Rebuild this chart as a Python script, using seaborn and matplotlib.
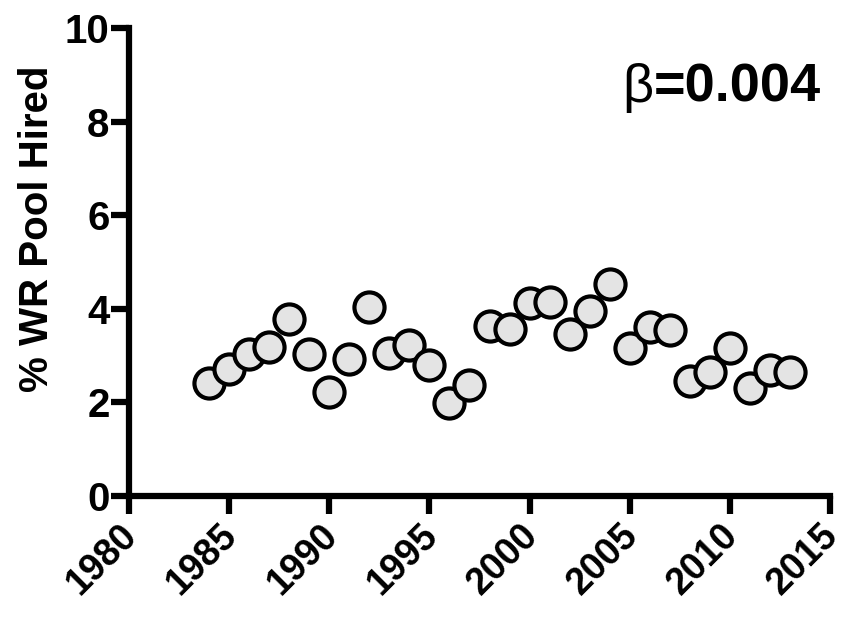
import matplotlib
matplotlib.use("Agg")
import matplotlib.pyplot as plt
import matplotlib.transforms as mtransforms
import seaborn as sns
import pandas as pd

# Share of the WR pool hired each year
years = list(range(1984, 2014))
pct_hired = [2.41, 2.71, 3.03, 3.19, 3.78, 3.03, 2.23, 2.92, 4.03, 3.06,
             3.23, 2.80, 1.99, 2.37, 3.63, 3.57, 4.12, 4.15, 3.46, 3.96,
             4.54, 3.17, 3.62, 3.55, 2.46, 2.66, 3.16, 2.31, 2.69, 2.66]
x_ticks = [1980, 1985, 1990, 1995, 2000, 2005, 2010, 2015]
y_ticks = [0, 2, 4, 6, 8, 10]
slope_label = "0.004"

df = pd.DataFrame({"year": years, "pct": pct_hired})

sns.set_theme(style="ticks")
plt.rcParams["font.family"] = ["Liberation Sans", "DejaVu Sans"]
for key in ("text.color", "axes.labelcolor", "xtick.color", "ytick.color",
            "axes.edgecolor"):
    plt.rcParams[key] = "black"

W, H = 846, 620
fig = plt.figure(figsize=(W / 100, H / 100), dpi=100)
fig.patch.set_facecolor("white")
ax = fig.add_axes([129 / W, 1 - 496 / H, (830 - 129) / W, (496 - 28) / H])
ax.set_facecolor("white")

sns.scatterplot(data=df, x="year", y="pct", ax=ax, s=470,
                color="#e4e4e4", edgecolor="black", linewidth=3.0,
                zorder=3, clip_on=False)

ax.set_xlim(1980, 2015)
ax.set_ylim(0, 10)
ax.set_xticks(x_ticks)
ax.set_yticks(y_ticks)
ax.set_xticklabels([str(t) for t in x_ticks], rotation=45, ha="right",
                   rotation_mode="anchor", fontsize=27, fontweight="bold")
ax.set_yticklabels([str(t) for t in y_ticks], fontsize=29, fontweight="bold")
ax.tick_params(axis="both", length=13, width=4.5, color="black")
ax.tick_params(axis="y", pad=1)
ax.tick_params(axis="x", pad=3)

# nudge the rotated year labels so their ends sit just under the ticks
shift = mtransforms.ScaledTranslation(-10 / 100, 1 / 100, fig.dpi_scale_trans)
for lab in ax.get_xticklabels():
    lab.set_transform(lab.get_transform() + shift)

for side in ("top", "right"):
    ax.spines[side].set_visible(False)
for side in ("left", "bottom"):
    ax.spines[side].set_linewidth(4.5)
    ax.spines[side].set_color("black")

ax.set_xlabel("")
ax.set_ylabel("% WR Pool Hired", fontsize=29, fontweight="bold")
ax.yaxis.set_label_coords(-0.104, 0.57)

ax.text(2006.2, 8.42, "β", fontsize=39, fontweight="normal",
        ha="right", va="baseline")
ax.text(2006.2, 8.42, "=" + slope_label, fontsize=39, fontweight="bold",
        ha="left", va="baseline")

fig.savefig("out.png", dpi=100, facecolor="white")
